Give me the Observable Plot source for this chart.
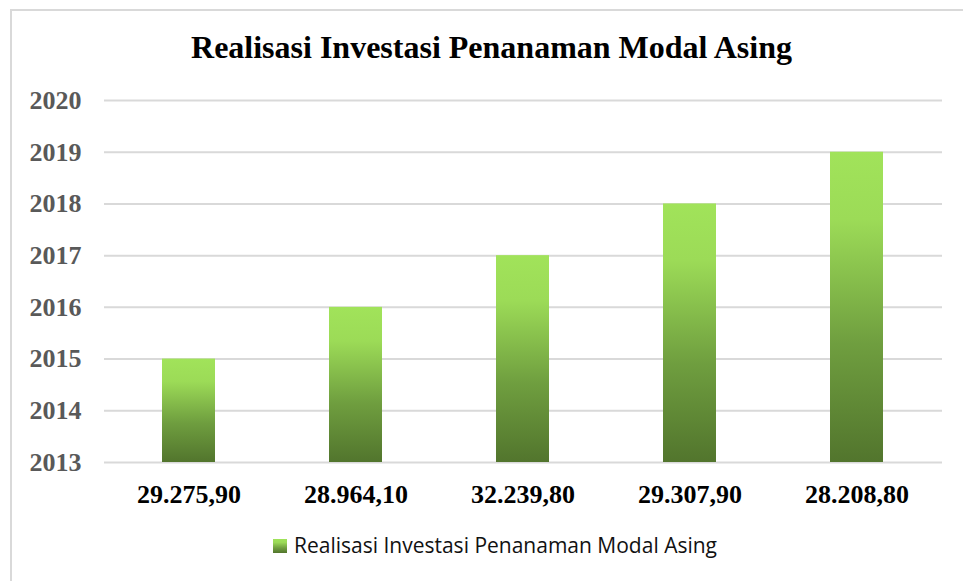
<!DOCTYPE html>
<html>
<head>
<meta charset="utf-8">
<script src="https://cdn.jsdelivr.net/npm/d3@7"></script>
<script src="https://cdn.jsdelivr.net/npm/@observablehq/plot@0.6"></script>
<style>
  html, body { margin: 0; padding: 0; background: #fff; }
  #wrap { position: relative; width: 963px; height: 581px; overflow: hidden; background: #fff; }
  #frame { position: absolute; left: 10px; top: 9px; width: 980px; height: 600px; border: 2px solid #d9d9d9; box-sizing: border-box; }
  #title { position: absolute; left: 0; top: 29px; width: 983px; text-align: center;
    font-family: "Liberation Serif", "Times New Roman", serif; font-weight: bold; font-size: 32px; color: #000; }
  #chart { position: absolute; left: 0; top: 80px; }
  #legend { position: absolute; left: 0; top: 531px; width: 990px; text-align: center;
    font-family: "Open Sans", "Noto Sans", sans-serif; font-size: 21px; color: #111; }
  #legend .sw { display: inline-block; width: 14px; height: 14px; vertical-align: 0px; margin-right: 7px;
    background: linear-gradient(to bottom, #a0e35a 0%, #9bd957 25%, #6f9e3f 65%, #52752d 100%); }
</style>
</head>
<body>
<div id="wrap">
  <div id="frame"></div>
  <div id="title">Realisasi Investasi Penanaman Modal Asing</div>
  <div id="chart"></div>
  <div id="legend"><span class="sw"></span>Realisasi Investasi Penanaman Modal Asing</div>
</div>
<script>
const categories = ["29.275,90", "28.964,10", "32.239,80", "29.307,90", "28.208,80"];
const years = [2015, 2016, 2017, 2018, 2019];
const yTicks = [2013, 2014, 2015, 2016, 2017, 2018, 2019, 2020];
const baseYear = 2013;

const data = categories.map((c, i) => ({category: c, year: years[i]}));

const defs = () => {
  const d = d3.create("svg:defs");
  const g = d.append("linearGradient").attr("id", "barGrad")
    .attr("x1", 0).attr("y1", 0).attr("x2", 0).attr("y2", 1);
  g.append("stop").attr("offset", "0%").attr("stop-color", "#a1e35a");
  g.append("stop").attr("offset", "22%").attr("stop-color", "#9cdb57");
  g.append("stop").attr("offset", "62%").attr("stop-color", "#6f9e3f");
  g.append("stop").attr("offset", "100%").attr("stop-color", "#52752d");
  return d.node();
};

const chart = Plot.plot({
  width: 963,
  height: 440,
  marginTop: 20,
  marginBottom: 58,
  marginLeft: 104,
  marginRight: 21,
  style: {background: "transparent", overflow: "visible"},
  x: {domain: categories, paddingInner: 0.68, paddingOuter: 0.34, label: null},
  y: {domain: [2013, 2020], label: null},
  marks: [
    defs,
    Plot.ruleY(yTicks, {stroke: "#d9d9d9", strokeWidth: 2}),
    Plot.barY(data, {x: "category", y1: baseYear, y2: "year", fill: "url(#barGrad)"}),
    Plot.axisY({ticks: yTicks, tickFormat: d => String(d), tickSize: 0, tickPadding: 23,
      fontSize: 26, fontWeight: "bold", fontFamily: "Liberation Serif, Times New Roman, serif", fill: "#595959", label: null}),
    Plot.axisX({tickSize: 0, tickPadding: 22, fontSize: 26, fontWeight: "bold",
      fontFamily: "Liberation Serif, Times New Roman, serif", fill: "#000", label: null})
  ]
});
document.getElementById("chart").appendChild(chart);
</script>
</body>
</html>
